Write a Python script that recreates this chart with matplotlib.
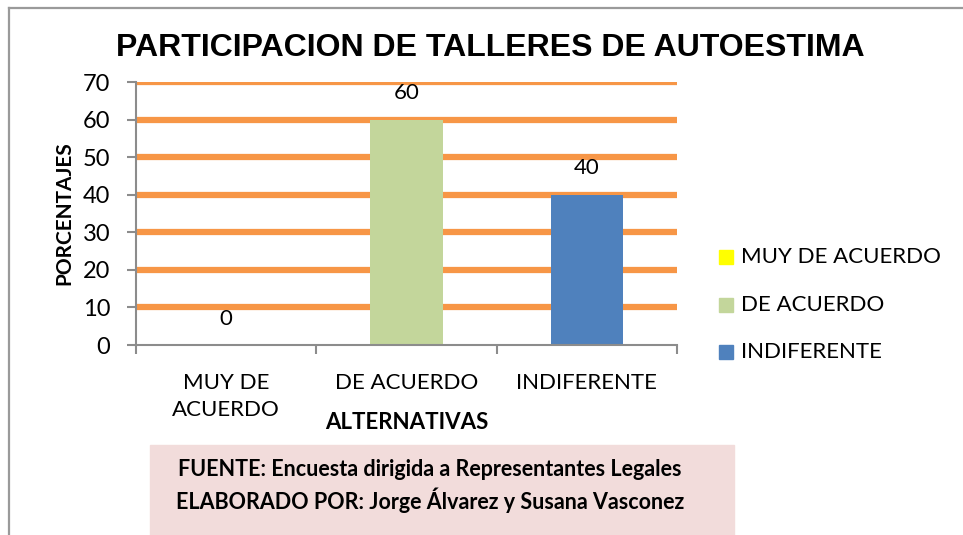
import matplotlib
matplotlib.use("Agg")
import matplotlib.pyplot as plt
from matplotlib.patches import Rectangle
from matplotlib.lines import Line2D

categories = ["MUY DE\nACUERDO", "DE ACUERDO", "INDIFERENTE"]
legend_labels = ["MUY DE ACUERDO", "DE ACUERDO", "INDIFERENTE"]
values = [0, 60, 40]
colors = ["#FFFF00", "#C3D69B", "#4F81BD"]
yticks = [0, 10, 20, 30, 40, 50, 60, 70]

W, H = 963, 535
fig = plt.figure(figsize=(W / 100, H / 100), dpi=100)
fig.patch.set_facecolor("white")

def fx(px):
    return px / W

def fy(py):
    return 1 - py / H

# frame lines (top and left of the chart area)
fig.add_artist(Line2D([fx(9), 1], [fy(8), fy(8)], color="#9a9a9a", lw=1.6))
fig.add_artist(Line2D([fx(9), fx(9)], [fy(8), 0], color="#9a9a9a", lw=1.6))

ax = fig.add_axes([fx(136), fy(345), fx(677) - fx(136), fy(82) - fy(345)])
ax.set_xlim(0, 3)
ax.set_ylim(0, 70)

for t in yticks[1:]:
    ax.axhline(t, color="#F79646", lw=4.5, zorder=1)

x = [0.5, 1.5, 2.5]
ax.bar(x, values, width=0.4, color=colors, zorder=2)

for xi, v in zip(x, values):
    ax.text(xi, v + 7, str(v), ha="center", va="center", fontsize=16,
            family="Lato", color="black")

for s in ["top", "right"]:
    ax.spines[s].set_visible(False)
for s in ["left", "bottom"]:
    ax.spines[s].set_color("#8c8c8c")
    ax.spines[s].set_linewidth(1.5)

ax.set_yticks(yticks)
ax.set_yticklabels([str(t) for t in yticks], fontsize=17, family="Lato")
ax.set_xticks([0, 1, 2, 3])
ax.set_xticklabels([])
ax.set_xticks(x, minor=True)
ax.set_xticklabels(categories, minor=True, fontsize=16, family="Lato",
                   linespacing=1.45)
ax.tick_params(axis="y", length=6.5, width=1.5, color="#8c8c8c", pad=12)
ax.tick_params(axis="x", which="major", length=6.5, width=1.5, color="#8c8c8c")
ax.tick_params(axis="x", which="minor", length=0, pad=20)

ax.set_ylabel("PORCENTAJES", fontsize=15, fontweight="bold", family="Lato", labelpad=6)
ax.set_xlabel("ALTERNATIVAS", fontsize=16, fontweight="bold", family="Lato", labelpad=-6)

fig.text(fx(490), fy(48), "PARTICIPACION DE TALLERES DE AUTOESTIMA",
         ha="center", va="center", fontsize=23, fontweight="bold",
         family="Liberation Sans")

# legend
leg_y = [257, 305, 352]
for lbl, c, py in zip(legend_labels, colors, leg_y):
    fig.add_artist(Rectangle((fx(719), fy(py + 7)), fx(14), 14 / H, color=c))
    fig.text(fx(741), fy(py), lbl, ha="left", va="center", fontsize=16, family="Lato")

# source box
fig.add_artist(Rectangle((fx(150), 0), fx(734) - fx(150), fy(445), color="#F2DCDB"))
fig.text(fx(430), fy(470), "FUENTE: Encuesta dirigida a Representantes Legales",
         ha="center", va="center", fontsize=15.5, fontweight="bold", family="Lato")
fig.text(fx(430), fy(500), "ELABORADO POR: Jorge Álvarez y Susana Vasconez",
         ha="center", va="center", fontsize=15.5, fontweight="bold", family="Lato")

fig.savefig("out.png", dpi=100)
